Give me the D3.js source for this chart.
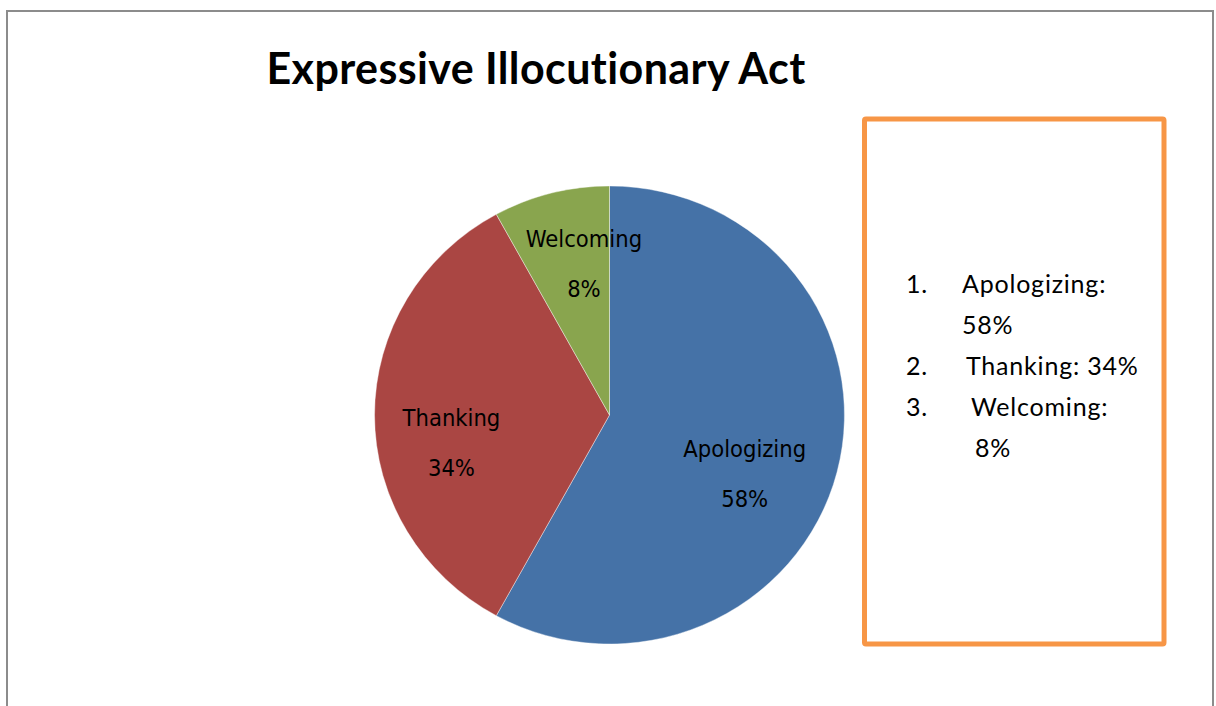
<!DOCTYPE html>
<html>
<head>
<meta charset="utf-8">
<script src="https://cdn.jsdelivr.net/npm/d3@7"></script>
<style>
  body { margin: 0; background: #fff; }
  svg { display: block; }
</style>
</head>
<body>
<div id="chart"></div>
<script>
// data
var title = "Expressive Illocutionary Act";
var categories = ["Apologizing", "Thanking", "Welcoming"];
var values = [58, 34, 8];
var colors = ["#4572A7", "#AA4643", "#89A54E"];

var width = 1216, height = 706;

var svg = d3.select("#chart").append("svg")
    .attr("width", width)
    .attr("height", height);

// outer frame (bottom edge runs off the page)
svg.append("rect")
    .attr("x", 7)
    .attr("y", 11)
    .attr("width", 1206)
    .attr("height", 720)
    .attr("fill", "none")
    .attr("stroke", "#8c8c8c")
    .attr("stroke-width", 2);

svg.append("text")
    .attr("x", 536)
    .attr("y", 84)
    .attr("text-anchor", "middle")
    .attr("font-family", "Lato, sans-serif")
    .attr("font-weight", "bold")
    .attr("font-size", 43)
    .attr("letter-spacing", 0.4)
    .attr("fill", "#000")
    .text(title);

var data = categories.map(function(c, i) { return {name: c, value: values[i]}; });

// pie
var cx = 609.5, cy = 415, r = 229;
var pie = d3.pie().sort(null).value(function(d) { return d.value; });
var arc = d3.arc().innerRadius(0).outerRadius(r);
var labelArc = d3.arc().innerRadius(r * 0.66).outerRadius(r * 0.66);

var g = svg.append("g")
    .attr("transform", "translate(" + cx + "," + cy + ") scale(1.026,1)");

var arcs = pie(data);

g.selectAll("path.slice")
  .data(arcs)
  .enter().append("path")
    .attr("class", "slice")
    .attr("d", arc)
    .attr("fill", function(d, i) { return colors[i]; })
    .attr("stroke", "#fff")
    .attr("stroke-width", 0.4);

// excel "best fit" nudges the labels a little off the centroid
var nudge = [[-15, 21], [-3, 28], [13, -5]];

var labels = svg.append("g")
    .attr("transform", "translate(" + cx + "," + cy + ")");

arcs.forEach(function(d, i) {
  var c = labelArc.centroid(d);
  var t = labels.append("text")
      .attr("text-anchor", "middle")
      .attr("font-family", "'DejaVu Sans Condensed', sans-serif")
      .attr("font-size", 23.5)
      .attr("fill", "#000")
      .attr("transform", "translate(" + (c[0] * 1.026 + nudge[i][0]) + "," + (c[1] + nudge[i][1]) + ")");
  t.append("tspan").attr("x", 0).attr("y", -17).text(d.data.name);
  t.append("tspan").attr("x", 0).attr("y", 33).text(d.data.value + "%");
});

// text box on the right
svg.append("rect")
    .attr("x", 864.5)
    .attr("y", 119)
    .attr("width", 299.5)
    .attr("height", 525)
    .attr("rx", 1.5)
    .attr("fill", "none")
    .attr("stroke", "#F79646")
    .attr("stroke-width", 5);

var box = svg.append("g")
    .attr("font-family", "Lato, sans-serif")
    .attr("font-size", 25)
    .attr("letter-spacing", 0.8)
    .attr("fill", "#000");

// tab stops drift a little per list item in the original document
var tabX = [962, 966, 971];
var lineH = 41, y = 293, maxRight = 1145;
data.forEach(function(d, i) {
  box.append("text").attr("x", 906).attr("y", y).text((i + 1) + ".");
  var full = d.name + ": " + d.value + "%";
  var t = box.append("text").attr("x", tabX[i]).attr("y", y).text(full);
  if (tabX[i] + t.node().getComputedTextLength() > maxRight) {
    t.text(d.name + ":");
    y += lineH;
    box.append("text").attr("x", tabX[i] + 2 * i).attr("y", y).text(d.value + "%");
  }
  y += lineH;
});
</script>
</body>
</html>
